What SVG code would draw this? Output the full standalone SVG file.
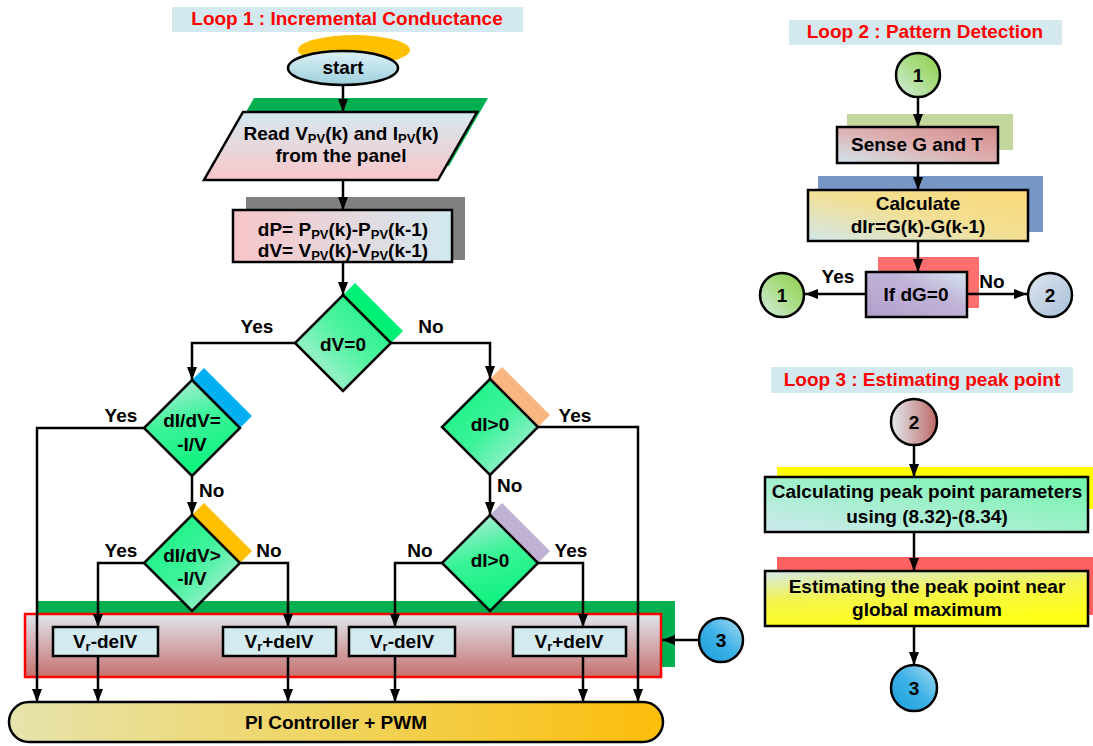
<svg xmlns="http://www.w3.org/2000/svg" width="1093" height="746" viewBox="0 0 1093 746">
  <defs>
    <marker id="arrow" viewBox="0 0 13 10" refX="13" refY="5" markerWidth="13" markerHeight="10" markerUnits="userSpaceOnUse" orient="auto">
      <path d="M0,0 L13,5 L0,10 z" fill="#000"/>
    </marker>
    <linearGradient id="gStart" x1="0" y1="0" x2="0" y2="1">
      <stop offset="0" stop-color="#dcf0f5"/>
      <stop offset="1" stop-color="#9fd0de"/>
    </linearGradient>
    <linearGradient id="gRead" x1="0" y1="0" x2="0" y2="1">
      <stop offset="0" stop-color="#d3e9f0"/>
      <stop offset="1" stop-color="#f9c6c9"/>
    </linearGradient>
    <linearGradient id="gDP" x1="0" y1="0" x2="1" y2="0">
      <stop offset="0" stop-color="#f8c5c8"/>
      <stop offset="1" stop-color="#d2e9f0"/>
    </linearGradient>
    <linearGradient id="gDiaA" x1="0" y1="1" x2="1" y2="0">
      <stop offset="0" stop-color="#cdeee8"/>
      <stop offset="0.55" stop-color="#4ff3a0"/>
      <stop offset="1" stop-color="#0ef27f"/>
    </linearGradient>
    <linearGradient id="gDiaB" x1="0" y1="0" x2="0.3" y2="1">
      <stop offset="0" stop-color="#c8ece6"/>
      <stop offset="0.5" stop-color="#3df39a"/>
      <stop offset="1" stop-color="#0ef27f"/>
    </linearGradient>
    <linearGradient id="gDiaC" x1="0" y1="0" x2="1" y2="1">
      <stop offset="0" stop-color="#0ef27f"/>
      <stop offset="0.5" stop-color="#3df39a"/>
      <stop offset="1" stop-color="#cdeee8"/>
    </linearGradient>
    <linearGradient id="gRegion" x1="0" y1="0" x2="0" y2="1">
      <stop offset="0" stop-color="#dfe6ee"/>
      <stop offset="1" stop-color="#c6716f"/>
    </linearGradient>
    <linearGradient id="gPI" x1="0" y1="0" x2="1" y2="0">
      <stop offset="0" stop-color="#e6e3ad"/>
      <stop offset="0.5" stop-color="#f0d45e"/>
      <stop offset="1" stop-color="#fdbd0a"/>
    </linearGradient>
    <linearGradient id="gGreenC" x1="0" y1="1" x2="1" y2="0">
      <stop offset="0" stop-color="#d4ece0"/>
      <stop offset="0.6" stop-color="#a6db7c"/>
      <stop offset="1" stop-color="#8dcf4c"/>
    </linearGradient>
    <linearGradient id="gGrayC" x1="0" y1="0" x2="1" y2="1">
      <stop offset="0" stop-color="#dde6ee"/>
      <stop offset="1" stop-color="#a9bfd9"/>
    </linearGradient>
    <linearGradient id="gRoseC" x1="0" y1="0" x2="1" y2="0">
      <stop offset="0" stop-color="#e2ebf0"/>
      <stop offset="1" stop-color="#bd6965"/>
    </linearGradient>
    <linearGradient id="gBlueC" x1="0" y1="1" x2="1" y2="0">
      <stop offset="0" stop-color="#1a9fdc"/>
      <stop offset="0.5" stop-color="#3eb2e6"/>
      <stop offset="1" stop-color="#a8dcf3"/>
    </linearGradient>
    <linearGradient id="gSense" x1="0" y1="1" x2="1" y2="0">
      <stop offset="0" stop-color="#d2e5ee"/>
      <stop offset="0.5" stop-color="#ddb0b0"/>
      <stop offset="1" stop-color="#d48c8a"/>
    </linearGradient>
    <linearGradient id="gCalc" x1="0" y1="1" x2="1" y2="0">
      <stop offset="0" stop-color="#d2e7ea"/>
      <stop offset="0.5" stop-color="#f2df95"/>
      <stop offset="1" stop-color="#fbd978"/>
    </linearGradient>
    <linearGradient id="gIf" x1="0" y1="1" x2="1" y2="0">
      <stop offset="0" stop-color="#b19fcb"/>
      <stop offset="0.6" stop-color="#c1b4d8"/>
      <stop offset="1" stop-color="#d3e6ef"/>
    </linearGradient>
    <linearGradient id="gPeak" x1="0" y1="1" x2="1" y2="0">
      <stop offset="0" stop-color="#cfe9ee"/>
      <stop offset="1" stop-color="#6ff7a8"/>
    </linearGradient>
    <linearGradient id="gEst" x1="0" y1="0" x2="0.4" y2="1">
      <stop offset="0" stop-color="#d4e9ec"/>
      <stop offset="0.5" stop-color="#f4f54a"/>
      <stop offset="1" stop-color="#ffff1a"/>
    </linearGradient>
    <style>
      text { font-family: "Liberation Sans", Arial, sans-serif; font-weight: bold; font-size: 19px; fill: #000; }
      .title { fill: #ff0000; text-anchor: middle; }
      .c { text-anchor: middle; }
      .sub { font-size: 13px; }
      .shape { stroke: #000; stroke-width: 2.5; }
      .arr { fill: none; stroke: #000; stroke-width: 2.5; marker-end: url(#arrow); }
      .titlebox { fill: #d3e9ef; }
      .vbox { fill: #d4eaf1; stroke: #000; stroke-width: 2.5; }
    </style>
  </defs>

  <!-- Loop 1 : Incremental Conductance -->
  <g id="title1">
    <rect class="titlebox" x="172" y="7" width="351" height="25"/>
    <text class="title" x="347" y="25">Loop 1 : Incremental Conductance</text>
  </g>

  <g id="start">
    <ellipse cx="354" cy="50" rx="56" ry="15" fill="#ffc000"/>
    <ellipse class="shape" cx="343" cy="68" rx="55" ry="17" fill="url(#gStart)"/>
    <text class="c" x="343" y="74">start</text>
  </g>

  <g id="read">
    <polygon points="254,98 488,98 449,166 215,166" fill="#00b050"/>
    <polygon class="shape" points="243,112 477,112 438,180 204,180" fill="url(#gRead)"/>
    <text class="c" x="341" y="140">Read V<tspan class="sub" dy="3">PV</tspan><tspan dy="-3">(k) and I</tspan><tspan class="sub" dy="3">PV</tspan><tspan dy="-3">(k)</tspan></text>
    <text class="c" x="341" y="162">from the panel</text>
  </g>

  <g id="delta">
    <rect x="246" y="197" width="219" height="63" fill="#808080"/>
    <rect class="shape" x="233" y="210" width="219" height="52" fill="url(#gDP)"/>
    <text class="c" x="343" y="236">dP= P<tspan class="sub" dy="3">PV</tspan><tspan dy="-3">(k)-P</tspan><tspan class="sub" dy="3">PV</tspan><tspan dy="-3">(k-1)</tspan></text>
    <text class="c" x="343" y="257">dV= V<tspan class="sub" dy="3">PV</tspan><tspan dy="-3">(k)-V</tspan><tspan class="sub" dy="3">PV</tspan><tspan dy="-3">(k-1)</tspan></text>
  </g>

  <!-- region holding the reference-voltage updates -->
  <g id="update-region">
    <rect x="37" y="601" width="638" height="66" fill="#00b050"/>
    <rect x="25" y="614" width="636" height="63" fill="url(#gRegion)" stroke="#ff0000" stroke-width="2.5"/>
  </g>

  <g id="dv0">
    <polygon points="355,283 403,331 355,379 307,331" fill="#00f076"/>
    <polygon class="shape" points="343,295 391,343 343,391 295,343" fill="url(#gDiaA)"/>
    <text class="c" x="343" y="351">dV=0</text>
  </g>

  <g id="didv-eq">
    <polygon points="204,368 252,416 204,464 156,416" fill="#00b0f0"/>
    <polygon class="shape" points="192,380 240,428 192,476 144,428" fill="url(#gDiaB)"/>
    <text class="c" x="192" y="427">dI/dV=</text>
    <text class="c" x="192" y="451">-I/V</text>
  </g>

  <g id="didv-gt">
    <polygon points="204,503 252,551 204,599 156,551" fill="#ffc000"/>
    <polygon class="shape" points="192,515 240,563 192,611 144,563" fill="url(#gDiaC)"/>
    <text class="c" x="192" y="562">dI/dV&gt;</text>
    <text class="c" x="192" y="585">-I/V</text>
  </g>

  <g id="di-gt-a">
    <polygon points="502,367 550,415 502,463 454,415" fill="#f9b67e"/>
    <polygon class="shape" points="490,379 538,427 490,475 442,427" fill="url(#gDiaC)"/>
    <text class="c" x="490" y="431">dI&gt;0</text>
  </g>

  <g id="di-gt-b">
    <polygon points="502,503 550,551 502,599 454,551" fill="#bfb1d4"/>
    <polygon class="shape" points="490,515 538,563 490,611 442,563" fill="url(#gDiaB)"/>
    <text class="c" x="490" y="567">dI&gt;0</text>
  </g>

  <g id="vr-dec-1">
    <rect class="vbox" x="53" y="627" width="105" height="29"/>
    <text class="c" x="105" y="648">V<tspan class="sub" dy="3">r</tspan><tspan dy="-3">-delV</tspan></text>
  </g>
  <g id="vr-inc-1">
    <rect class="vbox" x="223" y="627" width="113" height="29"/>
    <text class="c" x="279" y="648">V<tspan class="sub" dy="3">r</tspan><tspan dy="-3">+delV</tspan></text>
  </g>
  <g id="vr-dec-2">
    <rect class="vbox" x="349" y="627" width="106" height="29"/>
    <text class="c" x="402" y="648">V<tspan class="sub" dy="3">r</tspan><tspan dy="-3">-delV</tspan></text>
  </g>
  <g id="vr-inc-2">
    <rect class="vbox" x="513" y="627" width="113" height="29"/>
    <text class="c" x="569" y="648">V<tspan class="sub" dy="3">r</tspan><tspan dy="-3">+delV</tspan></text>
  </g>

  <g id="pi">
    <rect class="shape" x="9" y="702" width="654" height="40" rx="20" ry="20" fill="url(#gPI)"/>
    <text class="c" x="336" y="729">PI Controller + PWM</text>
  </g>

  <g id="conn3-in">
    <circle class="shape" cx="721" cy="640" r="22" fill="url(#gBlueC)"/>
    <text class="c" x="721" y="647">3</text>
  </g>

  <!-- Loop 2 : Pattern Detection -->
  <g id="title2">
    <rect class="titlebox" x="789" y="20" width="273" height="25"/>
    <text class="title" x="925" y="38">Loop 2 : Pattern Detection</text>
  </g>
  <g id="conn1-top">
    <circle class="shape" cx="918" cy="75" r="22" fill="url(#gGreenC)"/>
    <text class="c" x="918" y="82">1</text>
  </g>
  <g id="sense">
    <rect x="847" y="114" width="166" height="36" fill="#c3d69b"/>
    <rect class="shape" x="837" y="127" width="161" height="36" fill="url(#gSense)"/>
    <text class="c" x="917" y="151">Sense G and T</text>
  </g>
  <g id="calc">
    <rect x="818" y="176" width="225" height="56" fill="#7697c6"/>
    <rect class="shape" x="808" y="190" width="220" height="51" fill="url(#gCalc)"/>
    <text class="c" x="918" y="210">Calculate</text>
    <text class="c" x="918" y="233">dIr=G(k)-G(k-1)</text>
  </g>
  <g id="if-dg">
    <rect x="878" y="257" width="101" height="51" fill="#ff6f6f"/>
    <rect class="shape" x="866" y="272" width="101" height="45" fill="url(#gIf)"/>
    <text class="c" x="916" y="301">If dG=0</text>
  </g>
  <g id="conn1-back">
    <circle class="shape" cx="782" cy="295" r="22" fill="url(#gGreenC)"/>
    <text class="c" x="782" y="302">1</text>
  </g>
  <g id="conn2-out">
    <circle class="shape" cx="1050" cy="295" r="22" fill="url(#gGrayC)"/>
    <text class="c" x="1050" y="302">2</text>
  </g>

  <!-- Loop 3 : Estimating peak point -->
  <g id="title3">
    <rect class="titlebox" x="771" y="367" width="302" height="26"/>
    <text class="title" x="922" y="386">Loop 3 : Estimating peak point</text>
  </g>
  <g id="conn2-in">
    <circle class="shape" cx="914" cy="422" r="23" fill="url(#gRoseC)"/>
    <text class="c" x="914" y="429">2</text>
  </g>
  <g id="peak-params">
    <rect x="777" y="467" width="316" height="42" fill="#ffff00"/>
    <rect class="shape" x="765" y="477" width="323" height="55" fill="url(#gPeak)"/>
    <text class="c" x="927" y="498">Calculating peak point parameters</text>
    <text class="c" x="927" y="523">using (8.32)-(8.34)</text>
  </g>
  <g id="peak-estimate">
    <rect x="777" y="557" width="316" height="58" fill="#ff6161"/>
    <rect class="shape" x="765" y="571" width="323" height="55" fill="url(#gEst)"/>
    <text class="c" x="927" y="593">Estimating the peak point near</text>
    <text class="c" x="927" y="616">global maximum</text>
  </g>
  <g id="conn3-out">
    <circle class="shape" cx="914" cy="688" r="23" fill="url(#gBlueC)"/>
    <text class="c" x="914" y="695">3</text>
  </g>

  <!-- connectors -->
  <g id="connectors">
    <path class="arr" d="M343,86 V112"/>
    <path class="arr" d="M343,180 V210"/>
    <path class="arr" d="M343,262 V295"/>
    <path class="arr" d="M295,343 H192 V380"/>
    <path class="arr" d="M391,343 H490 V379"/>
    <path class="arr" d="M144,428 H37 V702"/>
    <path class="arr" d="M192,476 V515"/>
    <path class="arr" d="M144,563 H98 V627"/>
    <path class="arr" d="M240,563 H288 V627"/>
    <path class="arr" d="M538,427 H638 V702"/>
    <path class="arr" d="M490,475 V515"/>
    <path class="arr" d="M442,563 H395 V627"/>
    <path class="arr" d="M538,563 H583 V627"/>
    <path class="arr" d="M98,656 V702"/>
    <path class="arr" d="M288,656 V702"/>
    <path class="arr" d="M395,656 V702"/>
    <path class="arr" d="M583,656 V702"/>
    <path class="arr" d="M699,640 H662"/>

    <path class="arr" d="M918,97 V127"/>
    <path class="arr" d="M918,163 V190"/>
    <path class="arr" d="M918,241 V272"/>
    <path class="arr" d="M866,294 H805"/>
    <path class="arr" d="M967,294 H1027"/>

    <path class="arr" d="M914,445 V477"/>
    <path class="arr" d="M914,532 V571"/>
    <path class="arr" d="M914,626 V665"/>

    <text class="c" x="257" y="333">Yes</text>
    <text class="c" x="431" y="333">No</text>
    <text class="c" x="121" y="422">Yes</text>
    <text x="199" y="497">No</text>
    <text class="c" x="121" y="557">Yes</text>
    <text class="c" x="269" y="557">No</text>
    <text class="c" x="575" y="422">Yes</text>
    <text x="497" y="492">No</text>
    <text class="c" x="420" y="557">No</text>
    <text class="c" x="571" y="557">Yes</text>
    <text class="c" x="838" y="283">Yes</text>
    <text class="c" x="992" y="288">No</text>
  </g>
</svg>
